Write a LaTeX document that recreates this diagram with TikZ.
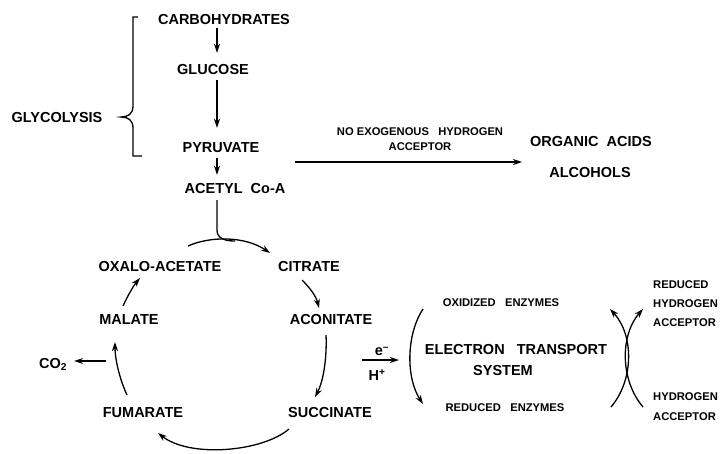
\documentclass[tikz,border=0pt]{standalone}
\usepackage{fontspec}
\setmainfont{Liberation Sans}
\usetikzlibrary{arrows.meta}
\begin{document}
\begin{tikzpicture}[x=1pt,y=-1pt,
  big/.style={font=\bfseries\fontsize{14.5}{17}\selectfont, inner sep=2pt, text height=11pt, text depth=0pt},
  small/.style={font=\bfseries\fontsize{11.2}{15}\selectfont, inner sep=1pt},
  arr/.style={line width=1.3pt, -{Stealth[length=9pt,width=6pt]}},
  ln/.style={line width=1.3pt}]
\fill[white] (0,0) rectangle (722,453);
\useasboundingbox (0,0) rectangle (722,453);
\coordinate (ax) at (217,0);
% glycolysis column
\node[big] (carb) at (224,19) {CARBOHYDRATES};
\node[big] (gluc) at (213,69) {GLUCOSE};
\node[big] (pyr) at (221,147) {PYRUVATE};
\node[big] (acet) at (235,188) {ACETYL\ \ Co-A};
\node[big] (glyc) at (57,117) {GLYCOLYSIS};
\draw[arr, shorten <=1.5pt, shorten >=8.5pt] (carb.south -| ax) -- (gluc.north -| ax);
\draw[arr, shorten <=3.5pt, shorten >=11.5pt] (gluc.south -| ax) -- (pyr.north -| ax);
\draw[arr, shorten <=3.5pt, shorten >=5.5pt] (pyr.south -| ax) -- (acet.north -| ax);
% bracket
\draw[ln] (138,17) -- (133,17) -- (133,106) .. controls (133,114) and (128,117) .. (121,117)
  .. controls (128,117) and (133,120) .. (133,128) -- (133,156) -- (142,156);
% fermentation branch
\coordinate (hs) at (295,162);
\coordinate (he) at (522,162);
\draw[arr] (hs) -- (he);
\node[small, align=center] (noexo) at (420,139.5) {NO EXOGENOUS\ \ \ HYDROGEN\\ACCEPTOR};
\node[big] (orga) at (591,141) {ORGANIC\ \ ACIDS};
\node[big] (alco) at (590,172) {ALCOHOLS};
% cycle
\node[big] (oxal) at (160,266) {OXALO-ACETATE};
\node[big] (citr) at (309,266) {CITRATE};
\node[big] (acon) at (331,319) {ACONITATE};
\node[big] (succ) at (330,412) {SUCCINATE};
\node[big] (fuma) at (143,412) {FUMARATE};
\node[big] (mala) at (129,319) {MALATE};
\node[big] (co2) at (53,363) {CO\textsubscript{2}};
\coordinate (join) at (235,241);
\draw[ln] (acet.south -| ax) ++(0,4.5) -- (217,230) .. controls (217,238) and (224,241) .. (join);
\draw[arr] (188,246) .. controls (210,236) and (245,236) .. (270,253);
\draw[arr] (302,280) .. controls (310,288) and (316,296) .. (319,308);
\draw[arr] (326,335) .. controls (327,355) and (324,380) .. (315,397);
\draw[arr] (289,429) .. controls (262,452) and (190,458) .. (158,433);
\draw[arr] (127,395) .. controls (120,380) and (115,360) .. (115,342);
\draw[arr] (123,306) .. controls (128,295) and (134,285) .. (140,278);
\coordinate (cs) at (106,361);
\draw[arr, shorten >=5pt] (cs) -- (co2.east |- cs);
% electron transport
\coordinate (es) at (362,360);
\coordinate (ee) at (399,360);
\draw[arr] (es) -- (ee);
\node[big] (em) at (382,350) {e\textsuperscript{--}};
\node[big] (hp) at (377,375) {H\textsuperscript{+}};
\node[small] (oxen) at (501,303) {OXIDIZED\ \ \ ENZYMES};
\node[big] (ets1) at (516,349) {ELECTRON\ \ \ TRANSPORT};
\node[big] (ets2) at (503,370) {SYSTEM};
\node[small] (reden) at (505,408) {REDUCED\ \ \ ENZYMES};
\draw[arr] (423,309) .. controls (406,335) and (406,378) .. (423,404);
\draw[arr] (611,407) .. controls (634,380) and (634,335) .. (610,309);
\draw[arr] (643,407) .. controls (620,380) and (620,335) .. (643,309);
\node[small, anchor=west] (rh1) at (652,285) {REDUCED};
\node[small, anchor=west] (rh2) at (652,304) {HYDROGEN};
\node[small, anchor=west] (rh3) at (652,323) {ACCEPTOR};
\node[small, anchor=west] (ha1) at (652,397) {HYDROGEN};
\node[small, anchor=west] (ha2) at (652,417) {ACCEPTOR};
\end{tikzpicture}
\end{document}
